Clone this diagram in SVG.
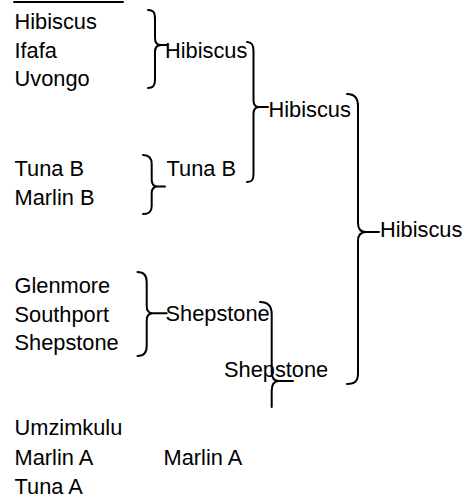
<svg xmlns="http://www.w3.org/2000/svg" width="465" height="494" viewBox="0 0 465 494">
<style>
text{font-family:"Liberation Sans",Arial,sans-serif;font-size:21.8px;fill:#000}
.br{fill:none;stroke:#000;stroke-width:2;stroke-linecap:round;stroke-linejoin:round}
</style>
<rect width="465" height="494" fill="#fff"/>
<g id="connectors">
<line class="br" x1="14" y1="2" x2="123" y2="2" stroke-linecap="butt"/>
<path id="brace1" class="br" d="M148,10 C154,10 155,13 155,19 L155,38 C155,43 157,45 161,45 L167,45 M161,45 C157,45 155,47 155,52 L155,80 C155,86 153,88 148,88"/>
<path id="brace2" class="br" d="M247,42 C252,42 253.5,45 253.5,51 L253.5,100 C253.5,105 255,107 259,107 L268,107 M259,107 C255,107 253.5,109 253.5,114 L253.5,174 C253.5,180 252,182 247,182"/>
<path id="brace3" class="br" d="M347,94 C355,94 358,98 358,106 L358,223 C358,229 361,232 366,232 L379,232 M366,232 C361,232 358,235 358,241 L358,373 C358,381 355,384 347,384"/>
<path id="brace4" class="br" d="M143,155 C149,155 151.7,158 151.7,164 L151.7,180 C151.7,184.5 154,186.5 158,186.5 L165,186.5 M158,186.5 C154,186.5 151.7,188.5 151.7,193 L151.7,206 C151.7,212 149,214 143,214"/>
<path id="brace5" class="br" d="M137.5,272 C144,272 146.7,275 146.7,282 L146.7,306 C146.7,311 149,313.3 153,313.3 L166.7,313.3 M153,313.3 C149,313.3 146.7,315.5 146.7,320.5 L146.7,346 C146.7,353 144,356 137.5,356"/>
<path id="brace6" class="br" d="M260,302 C268,302 271.7,306 271.7,314 L271.7,372 C271.7,378 274,381 279,381 L293,381 M279,381 C274,381 271.7,384 271.7,391 L271.7,407"/>
</g>
<g id="leaves">
<text x="14.5" y="29">Hibiscus</text>
<text x="14.5" y="58">Ifafa</text>
<text x="14.5" y="86">Uvongo</text>
<text x="14.5" y="176">Tuna B</text>
<text x="14.5" y="205">Marlin B</text>
<text x="14.5" y="293">Glenmore</text>
<text x="14.5" y="321.5">Southport</text>
<text x="14.5" y="349.5">Shepstone</text>
<text x="14.5" y="435">Umzimkulu</text>
<text x="14.5" y="465">Marlin A</text>
<text x="14.5" y="493.5">Tuna A</text>
</g>
<g id="node-hibiscus-1"><text x="165" y="58">Hibiscus</text></g>
<g id="node-hibiscus-2"><text x="268.5" y="117">Hibiscus</text></g>
<g id="node-hibiscus-3"><text x="380" y="237">Hibiscus</text></g>
<g id="node-tunab"><text x="166.5" y="176">Tuna B</text></g>
<g id="node-shepstone-1"><text x="165.5" y="321">Shepstone</text></g>
<g id="node-shepstone-2"><text x="224" y="377">Shepstone</text></g>
<g id="node-marlina"><text x="163.5" y="465">Marlin A</text></g>
</svg>
